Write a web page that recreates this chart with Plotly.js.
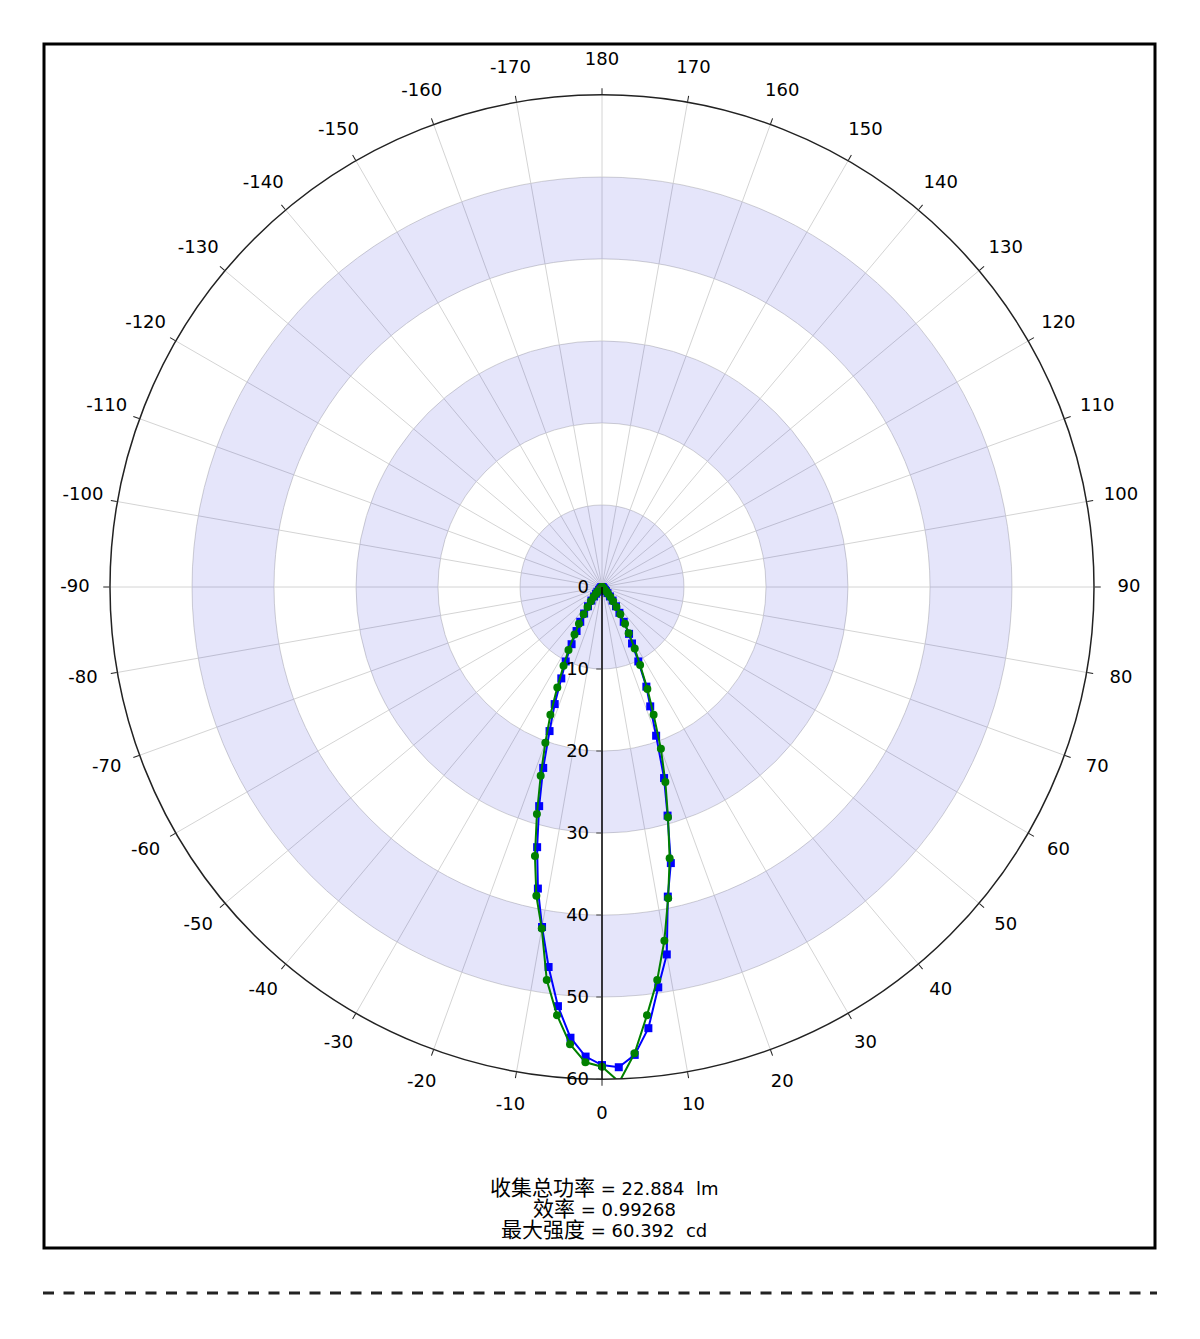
<!DOCTYPE html>
<html>
<head>
<meta charset="utf-8">
<script src="https://cdn.plot.ly/plotly-3.0.1.min.js"></script>
<style>html,body{margin:0;padding:0;background:#fff;}#chart{width:1200px;height:1339px;}</style>
</head>
<body>
<div id="chart"></div>
<script>
// ---- data ----
const angles = [-60,-58,-56,-54,-52,-50,-48,-46,-44,-42,-40,-38,-36,-34,-32,-30,-28,-26,-24,-22,-20,-18,-16,-14,-12,-10,-8,-6,-4,-2,0,2,4,6,8,10,12,14,16,18,20,22,24,26,28,30,32,34,36,38,40,42,44,46,48,50,52,54,56,58,60];
const blueValues = [0,0,0.05,0.1,0.1,0.2,0.3,0.5,0.8,1.1,1.5,2.1,2.9,3.9,5.0,6.2,7.9,10.1,12.2,15.4,18.7,23.2,27.8,32.7,37.6,42.1,46.8,51.4,55.1,57.3,58.3,58.6,57.2,54.1,49.3,45.5,38.6,34.7,29.0,24.5,19.3,15.7,13.3,10.1,7.8,6.6,5.0,3.8,2.9,2.1,1.5,1.0,0.7,0.5,0.3,0.2,0.1,0.1,0.05,0,0];
const greenValues = [0,0,0.05,0.1,0.1,0.2,0.3,0.5,0.8,1.1,1.6,2.2,3.0,4.0,5.3,6.7,8.7,10.7,13.4,16.8,20.2,24.2,28.8,33.8,38.5,42.3,48.4,52.5,55.9,58.0,58.5,60.4,57.0,52.5,48.4,43.8,38.8,34.1,29.2,25.0,21.0,16.8,13.6,10.6,8.5,6.5,5.3,4.0,3.0,2.2,1.6,1.1,0.8,0.5,0.3,0.2,0.1,0.1,0.05,0,0];
const bandInner = [0, 20, 40];
const bandOuter = [10, 30, 50];
const angularTickVals = [0,10,20,30,40,50,60,70,80,90,100,110,120,130,140,150,160,170,180,190,200,210,220,230,240,250,260,270,280,290,300,310,320,330,340,350];
const angularTickText = ['0','10','20','30','40','50','60','70','80','90','100','110','120','130','140','150','160','170','180','-170','-160','-150','-140','-130','-120','-110','-100','-90','-80','-70','-60','-50','-40','-30','-20','-10'];
const radialTickVals = [0,10,20,30,40,50,60];
const infoLabels = ['收集总功率', '效率', '最大强度'];
const infoValues = ['22.884\u00a0\u00a0lm', '0.99268', '60.392\u00a0\u00a0cd'];

const FONT = 'DejaVu Sans, Verdana, Noto Sans CJK SC, sans-serif';
const W = 1200, H = 1339;

// geometry (pixels)
const cx = 602, cy = 587, R = 492;      // plot circle
const RL = 540, labelR = 527;           // label ring subplot radius, label centre radius
const dom = {x: [(cx - R) / W, (cx + R) / W], y: [1 - (cy + R) / H, 1 - (cy - R) / H]};
const dom2 = {x: [(cx - RL) / W, (cx + RL) / W], y: [1 - (cy + RL) / H, 1 - (cy - RL) / H]};

const traces = [
  {
    type: 'barpolar',
    r: bandOuter.map((o, i) => o - bandInner[i]),
    base: bandInner,
    theta: bandInner.map(() => 0),
    width: bandInner.map(() => 360),
    marker: {color: 'rgba(0,0,205,0.1)', line: {width: 0}},
    hoverinfo: 'skip',
    showlegend: false
  },
  {
    type: 'scatterpolar',
    mode: 'lines+markers',
    r: blueValues,
    theta: angles,
    line: {color: '#0000ff', width: 2},
    marker: {symbol: 'square', size: 8, color: '#0000ff'},
    showlegend: false
  },
  {
    type: 'scatterpolar',
    mode: 'lines+markers',
    r: greenValues,
    theta: angles,
    line: {color: '#008000', width: 2},
    marker: {symbol: 'circle', size: 8, color: '#008000'},
    showlegend: false
  },
  {
    // angular tick labels, centred on a fixed-radius ring
    type: 'scatterpolar',
    subplot: 'polar2',
    mode: 'text',
    r: angularTickVals.map(() => labelR),
    theta: angularTickVals,
    text: angularTickText,
    textposition: 'middle center',
    textfont: {family: FONT, size: 18, color: '#000'},
    cliponaxis: false,
    showlegend: false,
    hoverinfo: 'skip'
  }
];

const layout = {
  width: W, height: H,
  margin: {l: 0, r: 0, t: 0, b: 0},
  paper_bgcolor: '#fff',
  showlegend: false,
  font: {family: FONT, size: 18, color: '#000'},
  polar: {
    domain: dom,
    bgcolor: 'rgba(0,0,0,0)',
    barmode: 'overlay',
    angularaxis: {
      rotation: -90,
      direction: 'counterclockwise',
      tickmode: 'array',
      tickvals: angularTickVals,
      showticklabels: false,
      ticks: 'outside',
      ticklen: 6,
      tickcolor: '#222',
      showline: true,
      linecolor: '#222',
      linewidth: 1.5,
      showgrid: true,
      gridcolor: '#d4d4d4',
      gridwidth: 1
    },
    radialaxis: {
      range: [0, 60],
      angle: -90,
      side: 'clockwise',
      tickmode: 'array',
      tickvals: radialTickVals,
      ticks: 'outside',
      ticklen: 5,
      tickcolor: '#444',
      showline: true,
      linecolor: '#000',
      linewidth: 1.5,
      showgrid: true,
      gridcolor: '#d4d4d4',
      gridwidth: 1,
      tickangle: -90,
      tickfont: {family: FONT, size: 18, color: '#000'}
    }
  },
  polar2: {
    domain: dom2,
    bgcolor: 'rgba(0,0,0,0)',
    angularaxis: {
      rotation: -90,
      direction: 'counterclockwise',
      visible: false
    },
    radialaxis: {visible: false, range: [0, RL]}
  },
  shapes: [
    {type: 'rect', xref: 'paper', yref: 'paper', x0: 44 / W, x1: 1155 / W, y0: 1 - 1248 / H, y1: 1 - 44 / H, line: {color: '#000', width: 3}},
    {type: 'line', xref: 'paper', yref: 'paper', x0: 43 / W, x1: 1157 / W, y0: 1 - 1293 / H, y1: 1 - 1293 / H, line: {color: '#222', width: 3, dash: '11px,9.5px'}}
  ],
  annotations: infoLabels.map((t, i) => ({
    text: '<span style="font-size:21px">' + t + '</span> = ' + infoValues[i],
    xref: 'paper', yref: 'paper', x: 604 / W, y: 1 - (1188 + 21 * i) / H,
    xanchor: 'center', yanchor: 'middle', showarrow: false,
    font: {family: FONT, size: 18, color: '#000'}
  }))
};

Plotly.newPlot('chart', traces, layout, {displayModeBar: false, staticPlot: true});
</script>
</body>
</html>
